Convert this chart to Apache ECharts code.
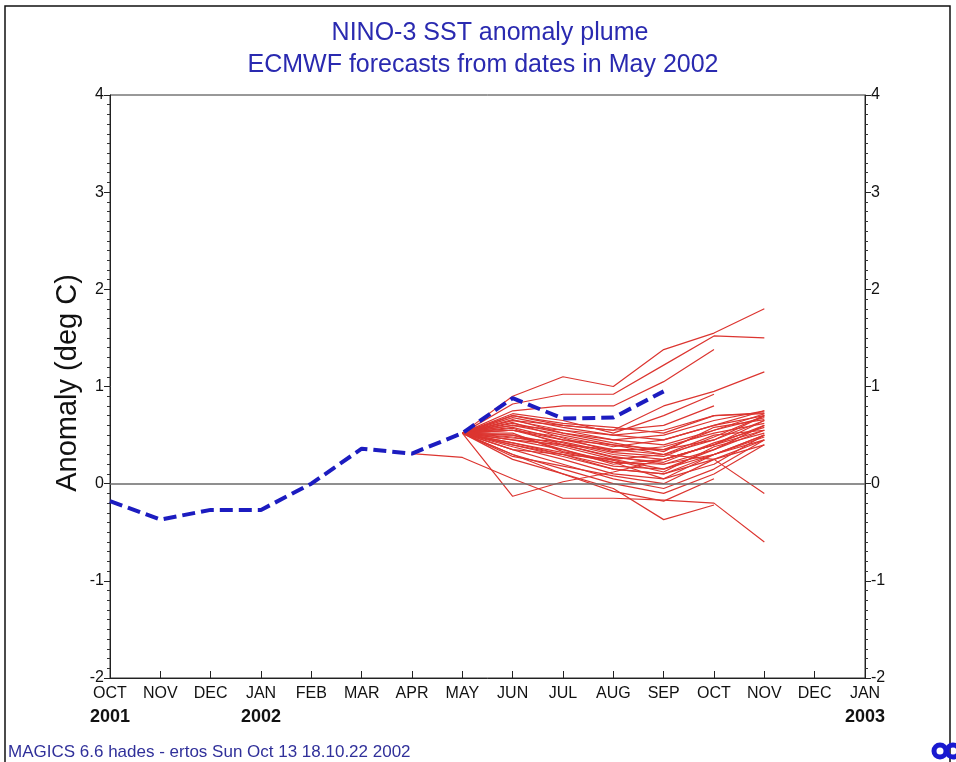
<!DOCTYPE html>
<html>
<head>
<meta charset="utf-8">
<script src="https://cdn.jsdelivr.net/npm/echarts@6/dist/echarts.min.js"></script>
<style>
html,body{margin:0;padding:0;background:#fff;}
#chart{width:956px;height:762px;}
</style>
</head>
<body>
<div id="chart"></div>
<script>
// ---- data ----
var months = ['OCT','NOV','DEC','JAN','FEB','MAR','APR','MAY','JUN','JUL','AUG','SEP','OCT','NOV','DEC','JAN'];
var yearLabels = {0:'2001', 3:'2002', 15:'2003'};
var yTicks = [-2,-1,0,1,2,3,4];
// observed anomaly, OCT 2001 .. SEP 2002
var observed = [-0.18,-0.37,-0.27,-0.27,0.00,0.36,0.31,0.52,0.88,0.67,0.68,0.95];
// ensemble members, values MAY..NOV 2002
var members = [
  [0.52,0.90,1.10,1.00,1.38,1.55,1.80],
  [0.52,0.82,0.92,0.92,1.22,1.52,1.50],
  [0.52,0.75,0.80,0.80,1.05,1.38,null],
  [0.52,0.70,0.60,0.55,0.80,0.95,1.15],
  [0.52,0.72,0.65,0.52,0.70,0.92,null],
  [0.52,0.65,0.55,0.45,0.50,0.65,0.75],
  [0.52,0.60,0.50,0.40,0.35,0.55,0.72],
  [0.52,0.58,0.45,0.35,0.30,0.45,0.70],
  [0.52,0.55,0.42,0.30,0.25,0.40,0.65],
  [0.52,0.50,0.40,0.28,0.20,0.35,0.60],
  [0.52,0.48,0.38,0.25,0.30,0.50,0.55],
  [0.52,0.45,0.35,0.22,0.20,0.30,0.50],
  [0.52,0.42,0.30,0.18,0.15,0.30,0.45],
  [0.52,0.40,0.28,0.15,0.10,0.25,0.40],
  [0.52,0.38,0.25,0.10,0.05,0.20,0.50],
  [0.52,0.62,0.52,0.45,0.40,0.55,0.68],
  [0.52,0.68,0.58,0.50,0.55,0.70,0.73],
  [0.52,0.35,0.20,0.05,-0.05,0.15,0.45],
  [0.52,0.30,0.15,0.00,-0.10,0.10,0.40],
  [0.52,0.25,0.10,-0.08,-0.18,0.05,null],
  [0.52,-0.13,0.02,0.12,0.25,0.40,0.55],
  [0.52,0.30,0.10,-0.05,-0.37,-0.22,null],
  [0.52,0.55,0.45,0.40,0.30,0.25,-0.10],
  [0.52,0.65,0.60,0.55,0.60,0.80,null],
  [0.52,0.60,0.55,0.50,0.45,0.60,0.70],
  [0.52,0.45,0.40,0.35,0.35,0.45,0.65],
  [0.52,0.50,0.35,0.20,0.25,0.40,0.60],
  [0.52,0.40,0.30,0.25,0.15,0.35,0.55],
  [0.52,0.35,0.30,0.15,0.10,0.30,0.50],
  [0.52,0.55,0.48,0.38,0.45,0.60,0.75],
  [0.52,0.42,0.32,0.22,0.05,0.30,0.48],
  [0.52,0.28,0.18,0.08,0.00,0.25,0.45],
  [0.52,0.70,0.62,0.58,0.52,0.70,0.72],
  [0.52,0.63,0.47,0.33,0.38,0.52,0.62],
  [0.52,0.57,0.40,0.27,0.22,0.42,0.58],
  [0.52,0.47,0.43,0.32,0.28,0.48,0.70],
  [0.52,0.66,0.52,0.42,0.33,0.58,0.66],
  [0.52,0.52,0.33,0.24,0.12,0.38,0.52]
];
var memberStartIndex = 7; // MAY
// one member starting in APR, values APR..NOV 2002
var earlyMember = [0.31,0.27,0.05,-0.15,-0.15,-0.17,-0.20,-0.60];
var earlyStartIndex = 6; // APR

// ---- build ----
function pad(vals, start){
  var out = [];
  for (var i=0;i<months.length;i++){
    var k = i - start;
    out.push(k>=0 && k<vals.length ? vals[k] : null);
  }
  return out;
}
var series = [];
var red = '#dc3530';
members.forEach(function(m){
  series.push({type:'line', data:pad(m, memberStartIndex), symbol:'none', silent:true,
    lineStyle:{color:red, width:1.2}, z:2});
});
series.push({type:'line', data:pad(earlyMember, earlyStartIndex), symbol:'none', silent:true,
  lineStyle:{color:red, width:1.2}, z:2});
series.push({type:'line', data:pad(observed,0), symbol:'none', silent:true, z:5,
  lineStyle:{color:'#1c1cc0', width:4, type:[13,6]},
  markLine:{silent:true, symbol:'none', label:{show:false},
    lineStyle:{color:'#6a6a6a', type:'solid', width:1.5},
    data:[{yAxis:0}]}
});

var font = 'Liberation Sans, Arial, sans-serif';
function yAxisDef(pos){
  return {type:'value', min:-2, max:4, interval:1, position:pos,
    axisLine:{show:true, onZero:false, lineStyle:{color:'#222', width:1}},
    axisTick:{show:true, length:6, lineStyle:{color:'#222'}},
    minorTick:{show:true, splitNumber:10, length:3, lineStyle:{color:'#333'}},
    splitLine:{show:false},
    axisLabel:{color:'#111', fontSize:16, fontFamily:font, margin:6,
      formatter:function(v){ return yTicks.indexOf(v)>=0 ? String(v) : ''; }}
  };
}
var chart = echarts.init(document.getElementById('chart'));
chart.setOption({
  backgroundColor:'#fff',
  animation:false,
  grid:{left:110, right:91, top:95, bottom:84, show:true, borderColor:'#333', borderWidth:1},
  xAxis:{type:'category', data:months, boundaryGap:false,
    axisLine:{onZero:false, lineStyle:{color:'#222'}},
    axisTick:{inside:true, length:7, interval:0, lineStyle:{color:'#222'}},
    axisLabel:{interval:0, margin:5, fontFamily:font,
      formatter:function(v, i){ return yearLabels[i] ? '{m|'+v+'}\n{y|'+yearLabels[i]+'}' : '{m|'+v+'}'; },
      rich:{m:{fontSize:16, color:'#111', fontFamily:font, lineHeight:22},
            y:{fontSize:18, color:'#111', fontWeight:'bold', fontFamily:font, lineHeight:24}}
    }
  },
  yAxis:[yAxisDef('left'), yAxisDef('right')],
  series:series,
  graphic:[
    {type:'rect', shape:{x:5, y:6, width:945, height:800}, style:{fill:'none', stroke:'#111', lineWidth:1.5}, silent:true},
    {type:'text', x:490, y:33, style:{text:'NINO-3 SST anomaly plume', fill:'#2a2ab0', font:'25px '+font, textAlign:'center', textVerticalAlign:'middle'}},
    {type:'text', x:483, y:65, style:{text:'ECMWF forecasts from dates in May 2002', fill:'#2a2ab0', font:'25px '+font, textAlign:'center', textVerticalAlign:'middle'}},
    {type:'text', x:68, y:383, rotation:Math.PI/2, style:{text:'Anomaly (deg C)', fill:'#111', font:'29px '+font, textAlign:'center', textVerticalAlign:'middle'}},
    {type:'text', x:8, y:752, style:{text:'MAGICS 6.6 hades - ertos Sun Oct 13 18.10.22 2002', fill:'#30309a', font:'17px '+font, textVerticalAlign:'middle'}},
    {type:'circle', shape:{cx:940, cy:751, r:6}, style:{fill:'none', stroke:'#1a1ad0', lineWidth:5}},
    {type:'circle', shape:{cx:953, cy:751, r:6}, style:{fill:'none', stroke:'#1a1ad0', lineWidth:5}}
  ]
});
</script>
</body>
</html>
